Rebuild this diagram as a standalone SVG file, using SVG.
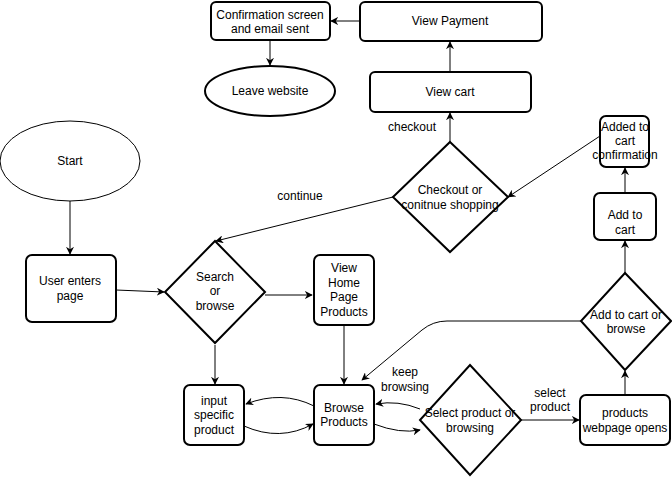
<svg xmlns="http://www.w3.org/2000/svg" width="672" height="477" viewBox="0 0 672 477">
<defs>
<style>
.n{fill:#fff;stroke:#000;stroke-width:2}
.thin{fill:#fff;stroke:#000;stroke-width:1}
text{font-family:"Liberation Sans",Arial,sans-serif;font-size:12px;fill:#000;text-anchor:middle}
.c{fill:none;stroke:#000;stroke-width:1}
</style>
<marker id="a" viewBox="0 0 10 10" refX="9" refY="5" markerWidth="8" markerHeight="8" markerUnits="userSpaceOnUse" orient="auto">
<path d="M0,0 L10,5 L0,10 L3,5 Z" fill="#000"/>
</marker>
</defs>
<rect width="672" height="477" fill="#fff"/>
<g id="connectors">
<path class="c" d="M360,21 L331,21" marker-end="url(#a)"/>
<path class="c" d="M270,40 L270,65" marker-end="url(#a)"/>
<path class="c" d="M450,72 L450,42" marker-end="url(#a)"/>
<path class="c" d="M450,142 L450,113" marker-end="url(#a)"/>
<path class="c" d="M600,136 L508,197" marker-end="url(#a)"/>
<path class="c" d="M625,193 L625,168" marker-end="url(#a)"/>
<path class="c" d="M625,273 L625,241" marker-end="url(#a)"/>
<path class="c" d="M625,395 L625,371" marker-end="url(#a)"/>
<path class="c" d="M393,197 L216,241" marker-end="url(#a)"/>
<path class="c" d="M70,201 L70,254" marker-end="url(#a)"/>
<path class="c" d="M116,290 L164,292" marker-end="url(#a)"/>
<path class="c" d="M265,295 L312,295" marker-end="url(#a)"/>
<path class="c" d="M215,345 L215,384" marker-end="url(#a)"/>
<path class="c" d="M344,325 L344,384" marker-end="url(#a)"/>
<path class="c" d="M521,420 L579,420" marker-end="url(#a)"/>
<path class="c" d="M581,321 L447,321 Q433,321 422,330 L362,380" marker-end="url(#a)"/>
<path class="c" d="M314,406 Q282,390 246,404" marker-end="url(#a)"/>
<path class="c" d="M244,426 Q280,442 313,424" marker-end="url(#a)"/>
<path class="c" d="M374,424 Q400,434 420,430" marker-end="url(#a)"/>
<path class="c" d="M420,409 Q398,400 376,404" marker-end="url(#a)"/>
<text x="412" y="131">checkout</text>
<text x="300" y="200">continue</text>
<text x="405" y="376">keep</text>
<text x="405" y="391">browsing</text>
<text x="550" y="397">select</text>
<text x="550" y="411">product</text>
</g>
<g id="confirmation">
<rect class="n" x="211" y="2" width="119" height="38" rx="5"/>
<text x="270" y="19">Confirmation screen</text>
<text x="270" y="33">and email sent</text>
</g>
<g id="viewPayment">
<rect class="n" x="360" y="2" width="182" height="39" rx="5"/>
<text x="450" y="25">View Payment</text>
</g>
<g id="leave">
<ellipse class="n" cx="270" cy="91" rx="65" ry="25"/>
<text x="270" y="95">Leave website</text>
</g>
<g id="viewCart">
<rect class="n" x="370" y="72" width="161" height="40" rx="5"/>
<text x="450" y="96">View cart</text>
</g>
<g id="checkoutDecision">
<polygon class="n" points="450,142 508,197 450,252 393,197"/>
<text x="450" y="194">Checkout or</text>
<text x="450" y="209">conitnue shopping</text>
</g>
<g id="addedConfirmation">
<rect class="n" x="600" y="116" width="49" height="51" rx="6"/>
<text x="625" y="131">Added to</text>
<text x="625" y="145">cart</text>
<text x="625" y="159">confirmation</text>
</g>
<g id="addToCart">
<rect class="n" x="594" y="193" width="62" height="47" rx="6"/>
<text x="625" y="219">Add to</text>
<text x="625" y="234">cart</text>
</g>
<g id="start">
<ellipse class="thin" cx="70" cy="161" rx="70" ry="40"/>
<text x="70" y="165">Start</text>
</g>
<g id="userEnters">
<rect class="n" x="26" y="255" width="90" height="67" rx="6"/>
<text x="70" y="285">User enters</text>
<text x="70" y="300">page</text>
</g>
<g id="searchBrowse">
<polygon class="n" points="215,241 265,292 215,343 165,292"/>
<text x="215" y="281">Search</text>
<text x="215" y="295">or</text>
<text x="215" y="310">browse</text>
</g>
<g id="viewHome">
<rect class="n" x="314" y="255" width="60" height="70" rx="6"/>
<text x="344" y="272">View</text>
<text x="344" y="287">Home</text>
<text x="344" y="301">Page</text>
<text x="344" y="316">Products</text>
</g>
<g id="inputProduct">
<rect class="n" x="184" y="385" width="60" height="60" rx="6"/>
<text x="214" y="405">input</text>
<text x="214" y="419">specific</text>
<text x="214" y="434">product</text>
</g>
<g id="browseProducts">
<rect class="n" x="314" y="385" width="60" height="60" rx="6"/>
<text x="344" y="412">Browse</text>
<text x="344" y="426">Products</text>
</g>
<g id="selectDecision">
<polygon class="n" points="470,365 521,420 470,475 420,420"/>
<text x="470" y="417">Select product or</text>
<text x="470" y="432">browsing</text>
</g>
<g id="productsPage">
<rect class="n" x="580" y="395" width="90" height="50" rx="6"/>
<text x="625" y="417">products</text>
<text x="625" y="432">webpage opens</text>
</g>
<g id="addDecision">
<polygon class="n" points="625,273 671,321 625,370 581,321"/>
<text x="626" y="319">Add to cart or</text>
<text x="626" y="333">browse</text>
</g>
</svg>
